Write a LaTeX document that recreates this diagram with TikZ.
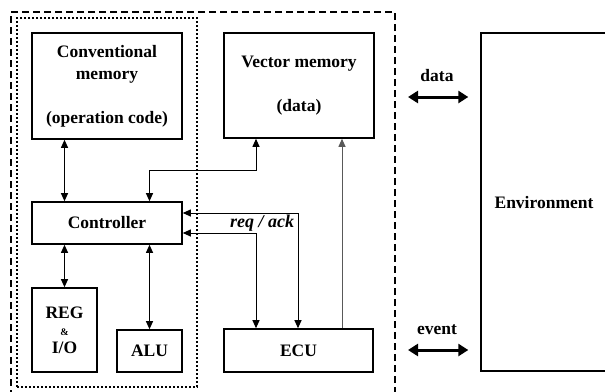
\documentclass[tikz,border=0pt]{standalone}
\usepackage{fontspec}
\setmainfont{Liberation Serif}
\usetikzlibrary{arrows.meta,calc}
\tikzset{
  txt/.style={font=\fontsize{17.5}{22}\selectfont\bfseries, align=center},
  block/.style={draw, line width=1.6pt, inner sep=0pt, txt},
  dashbox/.style={draw, line width=2pt, dash pattern=on 7pt off 4pt, inner sep=0pt},
  dotbox/.style={draw, line width=1.6pt, dash pattern=on 1.6pt off 2.4pt, inner sep=0pt},
  tip/.style={Triangle[length=8pt,width=7pt]},
  link/.style={line width=1pt, {Triangle[length=8pt,width=7pt]}-{Triangle[length=8pt,width=7pt]}},
  onelink/.style={line width=1pt, draw=black!65, -{Triangle[length=8pt,width=7pt]}},
  bigarrow/.style={line width=3pt, {Triangle[length=10pt,width=12pt]}-{Triangle[length=10pt,width=12pt]}, shorten <=12pt, shorten >=12pt},
}
\begin{document}
\begin{tikzpicture}[x=1pt, y=-1pt]
\useasboundingbox (0,0) rectangle (605,391);

% outer system boundary and processor boundary
\node[dashbox, minimum width=384pt, minimum height=383pt] (sys) at (203,203.5) {};
\node[dotbox, minimum width=180pt, minimum height=369pt] (cpu) at (107,202.5) {};

% blocks
\node[block, minimum width=150pt, minimum height=106pt] (cm) at (107,86) {Conventional\\memory\\ \\(operation code)};
\node[block, minimum width=150pt, minimum height=105pt] (vm) at (299,85.5) {Vector memory\\ \\(data)};
\node[block, minimum width=150pt, minimum height=42pt] (ctrl) at (107,223) {Controller};
\node[block, minimum width=65pt, minimum height=84pt, font=\fontsize{17.5}{17.5}\selectfont\bfseries] (rg) at (64.5,330) {REG\\{\fontsize{10}{10}\selectfont\&}\\I/O};
\node[block, minimum width=65pt, minimum height=42pt] (alu) at (149.5,351) {ALU};
\node[block, minimum width=149pt, minimum height=43pt] (ecu) at (298.5,350.5) {ECU};
\node[draw, line width=1.4pt, inner sep=0pt, minimum width=126pt, minimum height=338pt] (env) at (544,202) {};
\node[txt] (envtxt) at (544,203) {Environment};

% helper positions for the routed connectors
\coordinate (colA) at (256,0);
\coordinate (colB) at (298,0);
\coordinate (colC) at (342,0);
\coordinate (busY) at (0,170);
\coordinate (dataY) at (0,97);
\coordinate (eventY) at (0,350);

% internal connectors
\draw[link] (cm.south -| rg.north) -- (ctrl.north -| rg.north);
\draw[link] (ctrl.north -| alu.north) |- (busY -| colA) -- (vm.south -| colA);
\draw[onelink] (ecu.north -| colC) -- (vm.south -| colC);
\draw[link] ([yshift=10pt]ctrl.east) -| (ecu.north -| colB);
\draw[link] ([yshift=-10pt]ctrl.east) -| (ecu.north -| colA);
\draw[link] (ctrl.south -| rg.north) -- (rg.north);
\draw[link] (ctrl.south -| alu.north) -- (alu.north);
\node[txt, font=\fontsize{18}{22}\selectfont\bfseries\itshape] (reqack) at (262,223) {req / ack};

% interface to the environment
\draw[bigarrow] (sys.east |- dataY) -- (env.west |- dataY);
\draw[bigarrow] (sys.east |- eventY) -- (env.west |- eventY);
\node[txt] (datalbl) at (437,76) {data};
\node[txt] (eventlbl) at (437,330) {event};
\end{tikzpicture}
\end{document}
